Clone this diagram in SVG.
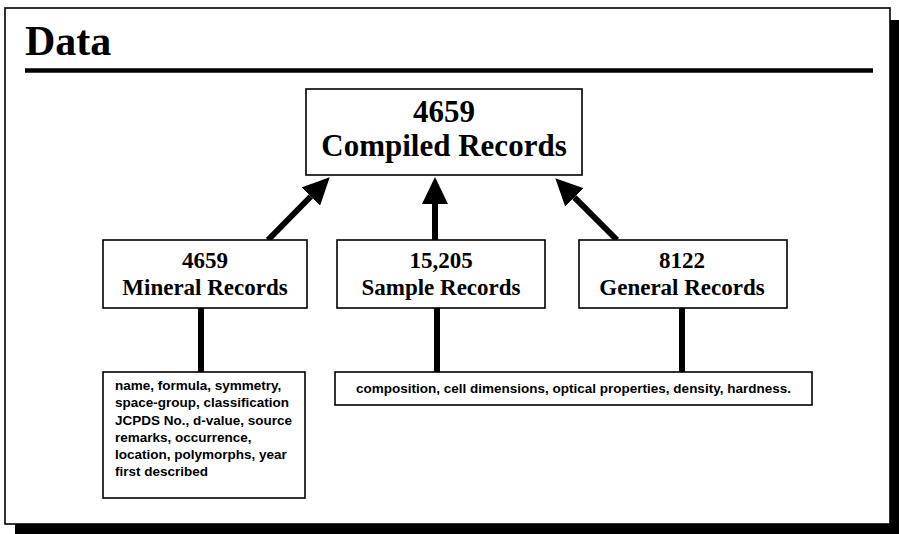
<svg xmlns="http://www.w3.org/2000/svg" width="899" height="534" viewBox="0 0 899 534">
  <style>
    .box { fill: #fff; stroke: #000; stroke-width: 1.6; }
    .title { font-family: "Liberation Serif", serif; font-weight: bold; font-size: 42px; fill: #000; }
    .big { font-family: "Liberation Serif", serif; font-weight: bold; font-size: 31px; fill: #000; text-anchor: middle; }
    .mid { font-family: "Liberation Serif", serif; font-weight: bold; font-size: 23px; fill: #000; text-anchor: middle; }
    .small { font-family: "Liberation Sans", Arial, sans-serif; font-weight: bold; font-size: 13.5px; fill: #000; }
    .link { stroke: #000; stroke-width: 6; fill: none; }
    .arrow { marker-end: url(#head); }
  </style>
  <defs>
    <marker id="head" markerUnits="userSpaceOnUse" viewBox="0 0 27 26" refX="0" refY="13" markerWidth="27" markerHeight="26" orient="auto">
      <path d="M0,0 L27,13 L0,26 Z" fill="#000"/>
    </marker>
  </defs>

  <!-- page frame with drop shadow -->
  <rect x="15" y="524" width="884" height="10" fill="#000"/>
  <rect x="890" y="20" width="9" height="514" fill="#000"/>
  <rect x="5" y="8" width="885" height="516" fill="#fff" stroke="#000" stroke-width="1.6"/>

  <!-- heading -->
  <text class="title" x="25" y="55">Data</text>
  <line x1="25" y1="70.5" x2="873" y2="70.5" stroke="#000" stroke-width="4.5"/>

  <!-- connectors -->
  <g id="connectors">
    <line class="link arrow" x1="268" y1="240" x2="310.8" y2="196.5"/>
    <line class="link arrow" x1="435" y1="240" x2="435" y2="204"/>
    <line class="link arrow" x1="617" y1="240" x2="574.4" y2="197.4"/>
    <line class="link" x1="201" y1="308" x2="201" y2="372"/>
    <line class="link" x1="437" y1="308" x2="437" y2="372"/>
    <line class="link" x1="682" y1="308" x2="682" y2="372"/>
  </g>

  <g id="compiled">
    <rect class="box" x="306" y="89" width="276" height="86"/>
    <text class="big" x="444" y="122">4659</text>
    <text class="big" x="444" y="156">Compiled Records</text>
  </g>

  <g id="mineral">
    <rect class="box" x="103" y="240" width="204" height="68"/>
    <text class="mid" x="205" y="268">4659</text>
    <text class="mid" x="205" y="295">Mineral Records</text>
  </g>

  <g id="sample">
    <rect class="box" x="337" y="240" width="208" height="68"/>
    <text class="mid" x="441" y="268">15,205</text>
    <text class="mid" x="441" y="295">Sample Records</text>
  </g>

  <g id="general">
    <rect class="box" x="579" y="240" width="208" height="68"/>
    <text class="mid" x="682" y="268">8122</text>
    <text class="mid" x="682" y="295">General Records</text>
  </g>

  <g id="mineral-fields">
    <rect class="box" x="103" y="372" width="202" height="126"/>
    <text class="small" x="115" y="390">name, formula, symmetry,</text>
    <text class="small" x="115" y="407">space-group, classification</text>
    <text class="small" x="115" y="424.5">JCPDS No., d-value, source</text>
    <text class="small" x="115" y="441.5">remarks, occurrence,</text>
    <text class="small" x="115" y="459">location, polymorphs, year</text>
    <text class="small" x="115" y="476">first described</text>
  </g>

  <g id="property-fields">
    <rect class="box" x="335" y="372" width="477" height="33"/>
    <text class="small" x="573.5" y="393" text-anchor="middle">composition, cell dimensions, optical properties, density, hardness.</text>
  </g>
</svg>
